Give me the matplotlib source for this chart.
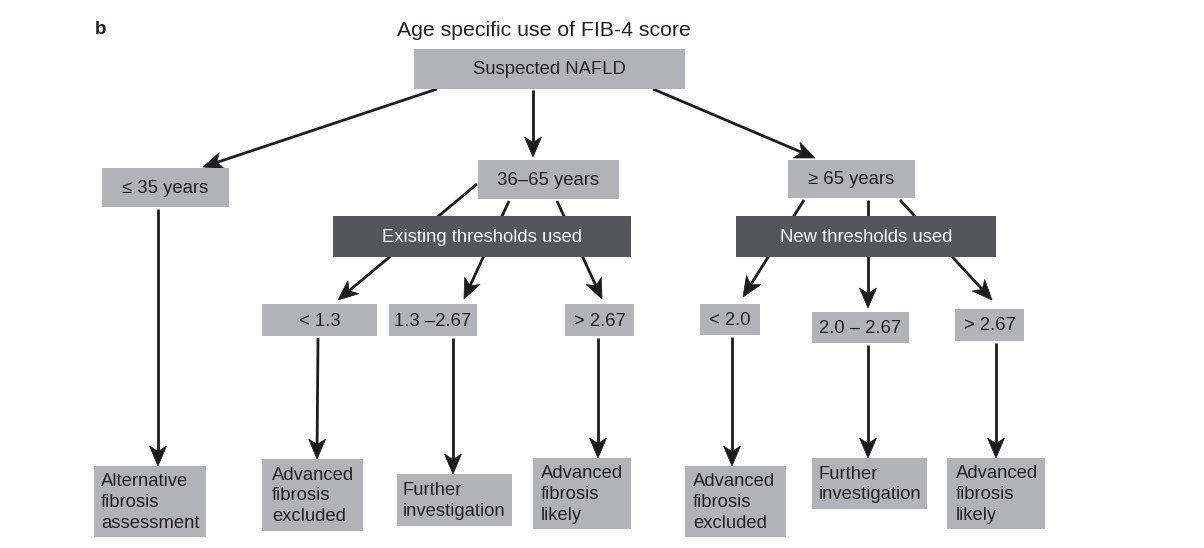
import matplotlib
matplotlib.use("Agg")
import matplotlib.pyplot as plt
from matplotlib.patches import Rectangle, Polygon
import numpy as np

plt.rcParams['font.family'] = ['Liberation Sans', 'DejaVu Sans']

# ---------------- content ----------------
title = "Age specific use of FIB-4 score"
panel_label = "b"

root_label = "Suspected NAFLD"
age_labels = ["\u2264 35 years", "36\u201365 years", "\u2265 65 years"]
threshold_headers = ["Existing thresholds used", "New thresholds used"]
existing_cutoffs = ["< 1.3", "1.3 \u20132.67", "> 2.67"]
new_cutoffs = ["< 2.0", "2.0 \u2013 2.67", "> 2.67"]
young_outcome = "Alternative\nfibrosis\nassessment"
outcomes = ["Advanced\nfibrosis\nexcluded", "Further\ninvestigation", "Advanced\nfibrosis\nlikely"]

# ---------------- layout (pixel boxes: x0, y0, x1, y1) ----------------
LIGHT = "#b2b3b6"
DARK = "#555659"
TXT = "#231f20"
LINE = "#1c1c1c"

boxes = {
    "root": (414, 49, 685, 89),
    "young": (102, 168, 229, 207),
    "mid": (478, 160, 619, 199),
    "old": (788, 160, 915, 198),
    "exist": (333, 216, 631, 257),
    "new": (736, 216, 996, 257),
    "m1": (262, 304, 377, 336),
    "m2": (389, 304, 477, 336),
    "m3": (565, 304, 634, 336),
    "o1": (700, 304, 760, 335),
    "o2": (812, 312, 909, 343),
    "o3": (955, 309, 1024, 341),
    "y_out": (94, 466, 206, 537),
    "m1_out": (262, 459, 363, 531),
    "m2_out": (397, 474, 512, 526),
    "m3_out": (533, 458, 631, 529),
    "o1_out": (685, 466, 786, 537),
    "o2_out": (812, 458, 927, 509),
    "o3_out": (947, 458, 1045, 529),
}
out_text_x = {"y_out": 101, "m1_out": 272, "m2_out": 403, "m3_out": 541,
              "o1_out": 693, "o2_out": 819, "o3_out": 956}

labels = {"root": root_label,
          "young": age_labels[0], "mid": age_labels[1], "old": age_labels[2],
          "exist": threshold_headers[0], "new": threshold_headers[1],
          "m1": existing_cutoffs[0], "m2": existing_cutoffs[1], "m3": existing_cutoffs[2],
          "o1": new_cutoffs[0], "o2": new_cutoffs[1], "o3": new_cutoffs[2],
          "y_out": young_outcome,
          "m1_out": outcomes[0], "m2_out": outcomes[1], "m3_out": outcomes[2],
          "o1_out": outcomes[0], "o2_out": outcomes[1], "o3_out": outcomes[2]}

# arrows: (start, tip)
arrows = [
    ((437, 89), (203, 167)),
    ((533, 90), (533, 157)),
    ((653, 89), (815, 158)),
    ((477, 184), (338, 300)),
    ((509, 201), (464, 299)),
    ((557, 201), (602, 299)),
    ((804, 200), (743, 297)),
    ((868, 200), (868, 308)),
    ((900, 200), (992, 300)),
    ((158, 209), (158, 466)),
    ((318, 338), (317, 459)),
    ((453, 338), (453, 474)),
    ((598, 338), (598, 458)),
    ((732, 337), (732, 466)),
    ((868, 345), (868, 458)),
    ((996, 343), (996, 458)),
]

W, H = 1204, 548
fig = plt.figure(figsize=(W / 100, H / 100), dpi=100)
ax = fig.add_axes([0, 0, 1, 1])
ax.set_xlim(0, W)
ax.set_ylim(H, 0)
ax.axis("off")

FS = 13.3

# arrows (behind boxes)
HL, HW, NOTCH = 20.0, 17.0, 0.72
for (x0, y0), (x1, y1) in arrows:
    d = np.array([x1 - x0, y1 - y0], float)
    L = np.hypot(*d)
    u = d / L
    p = np.array([-u[1], u[0]])
    tip = np.array([x1, y1], float)
    back = tip - HL * u
    notch = tip - NOTCH * HL * u
    ax.plot([x0, notch[0]], [y0, notch[1]], color=LINE, lw=2.0,
            solid_capstyle="butt", zorder=1)
    poly = Polygon([tip, back + HW / 2 * p, notch, back - HW / 2 * p],
                   closed=True, facecolor=LINE, edgecolor=LINE, lw=0.5, zorder=1.5)
    ax.add_patch(poly)

for key, (x0, y0, x1, y1) in boxes.items():
    dark = key in ("exist", "new")
    ax.add_patch(Rectangle((x0, y0), x1 - x0, y1 - y0,
                           facecolor=DARK if dark else LIGHT, edgecolor="none", zorder=2))
    cy = (y0 + y1) / 2
    if key.endswith("_out"):
        ax.text(out_text_x[key], cy + 1, labels[key], ha="left", va="center",
                fontsize=FS, color=TXT, linespacing=1.27, zorder=3)
    else:
        ax.text((x0 + x1) / 2, cy + 1, labels[key], ha="center", va="center",
                fontsize=FS, color="white" if dark else TXT, zorder=3)

ax.text(543.5, 31, title, ha="center", va="center", fontsize=15.3, color=TXT)
ax.text(95, 29, panel_label, ha="left", va="center", fontsize=13.5,
        fontweight="bold", color=TXT)

fig.savefig("out.png", dpi=100)
